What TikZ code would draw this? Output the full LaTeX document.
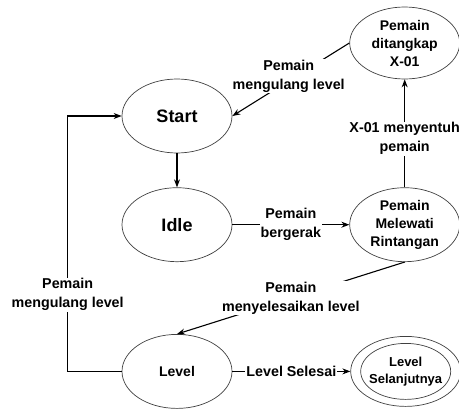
\documentclass[tikz,border=0pt]{standalone}
\usepackage{fontspec}
\setmainfont{Liberation Sans}
\usepackage{tikz}
\usetikzlibrary{positioning,arrows.meta,shapes.geometric}

\begin{document}
\begin{tikzpicture}[x=1pt, y=-1pt,
        stnode/.style = {ellipse, draw=black!75, line width=0.7pt, minimum width=110pt, minimum height=74pt,
            inner sep=0pt, align=center, font=\bfseries\fontsize{14}{18}\selectfont},
        bignode/.style = {stnode, font=\bfseries\fontsize{18}{22}\selectfont},
        trans/.style = {line width=1.1pt, -{Stealth[length=8pt, width=6pt]}},
        edgelabel/.style = {fill=white, inner sep=1pt, align=center, font=\bfseries\fontsize{14.3}{19}\selectfont},
    ]
    \useasboundingbox (0,0) rectangle (459,410);
    \node [bignode] (start) at (177,116) {Start};
    \node [bignode, below = 34pt of start] (idle) {Idle};
    \node [stnode, right = 117pt of idle, inner ysep=-8pt] (lewat) {Pemain\\Melewati\\Rintangan};
    \node [stnode, above = 108pt of lewat, inner ysep=-8pt, minimum height=72pt] (tangkap) {Pemain\\ditangkap\\X-01};
    \node [stnode, below = 72pt of idle] (level) {Level};
    \node [stnode, right = 118pt of level, minimum height=70pt,
        font=\bfseries\fontsize{13}{17}\selectfont] (lanjut) {Level\\Selanjutnya};
    \draw [draw=black!75, line width=0.7pt] (lanjut.center) ellipse [x radius=45, y radius=28];

    \draw [trans] (start) -- (idle);
    \draw [trans] (idle) -- node [edgelabel] {Pemain\\bergerak} (lewat);
    \draw [trans] (lewat) -- node [edgelabel, pos=0.45] {X-01 menyentuh\\pemain} (tangkap);
    \draw [trans] (tangkap.west) -- node [edgelabel, pos=0.45, xshift=-8pt] {Pemain\\mengulang level} (start.east);
    \draw [trans] (lewat.south) -- node [edgelabel] {Pemain\\menyelesaikan level} (level.north);
    \draw [trans] (level.west) -- ++(-54,0) |- node [edgelabel, pos=0.15] {Pemain\\mengulang level} (start.west);
    \draw [trans] (level) -- node [edgelabel] {Level Selesai} (lanjut);
\end{tikzpicture}
\end{document}
